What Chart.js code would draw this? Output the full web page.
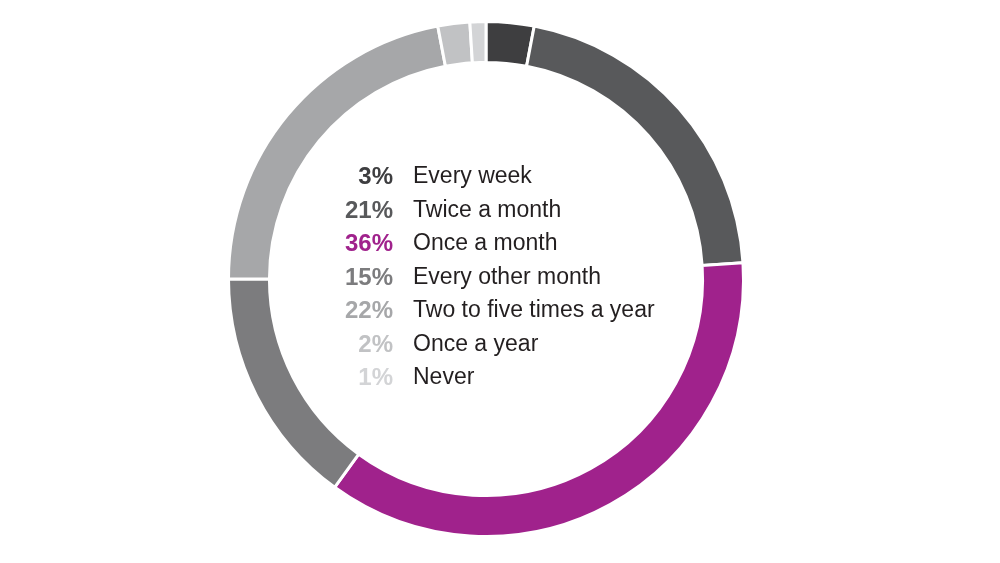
<!DOCTYPE html>
<html>
<head>
<meta charset="utf-8">
<script src="https://cdn.jsdelivr.net/npm/chart.js@4"></script>
<style>
  body { margin: 0; background: #fff; }
  #wrap { position: relative; width: 1000px; height: 563px; }
  #legend {
    position: absolute; left: 300px; top: 159px;
    font-family: "Liberation Sans", Arial, sans-serif; font-size: 23px;
  }
  .row { display: flex; height: 33.5px; line-height: 33.5px; white-space: nowrap; }
  .pct { width: 93px; text-align: right; font-weight: bold; font-size: 24px; }
  .lbl { margin-left: 20px; color: #231f20; }
</style>
</head>
<body>
<div id="wrap">
  <canvas id="donut"></canvas>
  <div id="legend"></div>
</div>
<script>
// survey answers, clockwise from 12 o'clock
const categories = ['Every week', 'Twice a month', 'Once a month', 'Every other month',
                    'Two to five times a year', 'Once a year', 'Never'];
const shares = [3, 21, 36, 15, 22, 2, 1];
const sliceColors = ['#3e3e40', '#58595b', '#a0228c', '#7c7c7e', '#a6a7a9', '#c1c2c4', '#d3d4d6'];

// legend in the hole
const legend = document.getElementById('legend');
legend.innerHTML = categories.map((c, i) => `
    <div class="row">
        <span class="pct" style="color:${sliceColors[i]}">${shares[i]}%</span>
        <span class="lbl">${c}</span>
    </div>`).join('');

new Chart(document.getElementById('donut'), {
    type: 'doughnut',
    data: {
        labels: categories,
        datasets: [{
            data: shares,
            backgroundColor: sliceColors,
            borderColor: '#ffffff',
            borderWidth: 3,
            hoverOffset: 0
        }]
    },
    options: {
        responsive: true,
        maintainAspectRatio: false,
        animation: false,
        radius: 257.5,
        cutout: '84.1%',
        layout: { padding: { left: 0, right: 28, top: 0, bottom: 5 } },
        plugins: {
            legend: { display: false },
            tooltip: { enabled: false }
        }
    }
});
</script>
</body>
</html>
